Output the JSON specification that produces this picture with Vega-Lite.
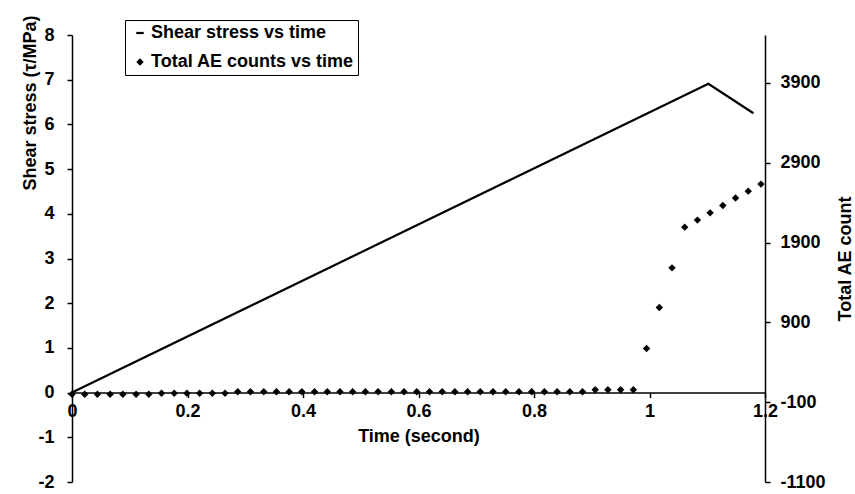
{
  "$schema": "https://vega.github.io/schema/vega-lite/v6.json",
  "width": 693,
  "height": 447,
  "autosize": {"type": "none"},
  "padding": {"left": 72, "top": 35, "right": 90, "bottom": 12},
  "background": "white",
  "config": {
    "view": {"stroke": null},
    "font": "Liberation Sans",
    "axis": {
      "grid": false,
      "domainColor": "black",
      "domainWidth": 1.5,
      "tickColor": "black",
      "tickWidth": 1.5,
      "tickSize": 5,
      "labelColor": "black",
      "labelFont": "Liberation Sans",
      "labelFontSize": 18,
      "labelFontWeight": "bold",
      "titleColor": "black",
      "titleFont": "Liberation Sans",
      "titleFontSize": 18,
      "titleFontWeight": "bold",
      "labelFlush": false,
      "labelOverlap": false,
      "labelBound": false,
      "labelExpr": "'' + datum.value"
    }
  },
  "data": {
    "values": [
      {"series": "Shear stress vs time", "time": 0, "value": 0},
      {"series": "Shear stress vs time", "time": 1.102, "value": 6.91},
      {"series": "Shear stress vs time", "time": 1.18, "value": 6.25},
      {"series": "Total AE counts vs time", "time": 0, "value": 0},
      {"series": "Total AE counts vs time", "time": 0.022, "value": 0},
      {"series": "Total AE counts vs time", "time": 0.044, "value": 0},
      {"series": "Total AE counts vs time", "time": 0.066, "value": 0},
      {"series": "Total AE counts vs time", "time": 0.088, "value": 0},
      {"series": "Total AE counts vs time", "time": 0.111, "value": 0},
      {"series": "Total AE counts vs time", "time": 0.133, "value": 0},
      {"series": "Total AE counts vs time", "time": 0.155, "value": 12},
      {"series": "Total AE counts vs time", "time": 0.177, "value": 12},
      {"series": "Total AE counts vs time", "time": 0.199, "value": 12},
      {"series": "Total AE counts vs time", "time": 0.221, "value": 12},
      {"series": "Total AE counts vs time", "time": 0.243, "value": 12},
      {"series": "Total AE counts vs time", "time": 0.265, "value": 12},
      {"series": "Total AE counts vs time", "time": 0.287, "value": 30},
      {"series": "Total AE counts vs time", "time": 0.309, "value": 30},
      {"series": "Total AE counts vs time", "time": 0.332, "value": 30},
      {"series": "Total AE counts vs time", "time": 0.354, "value": 30},
      {"series": "Total AE counts vs time", "time": 0.376, "value": 30},
      {"series": "Total AE counts vs time", "time": 0.398, "value": 30},
      {"series": "Total AE counts vs time", "time": 0.42, "value": 30},
      {"series": "Total AE counts vs time", "time": 0.442, "value": 30},
      {"series": "Total AE counts vs time", "time": 0.464, "value": 30},
      {"series": "Total AE counts vs time", "time": 0.486, "value": 30},
      {"series": "Total AE counts vs time", "time": 0.508, "value": 30},
      {"series": "Total AE counts vs time", "time": 0.53, "value": 30},
      {"series": "Total AE counts vs time", "time": 0.553, "value": 30},
      {"series": "Total AE counts vs time", "time": 0.575, "value": 30},
      {"series": "Total AE counts vs time", "time": 0.597, "value": 30},
      {"series": "Total AE counts vs time", "time": 0.619, "value": 30},
      {"series": "Total AE counts vs time", "time": 0.641, "value": 30},
      {"series": "Total AE counts vs time", "time": 0.663, "value": 30},
      {"series": "Total AE counts vs time", "time": 0.685, "value": 30},
      {"series": "Total AE counts vs time", "time": 0.707, "value": 30},
      {"series": "Total AE counts vs time", "time": 0.729, "value": 30},
      {"series": "Total AE counts vs time", "time": 0.751, "value": 30},
      {"series": "Total AE counts vs time", "time": 0.774, "value": 30},
      {"series": "Total AE counts vs time", "time": 0.796, "value": 30},
      {"series": "Total AE counts vs time", "time": 0.818, "value": 30},
      {"series": "Total AE counts vs time", "time": 0.84, "value": 30},
      {"series": "Total AE counts vs time", "time": 0.862, "value": 30},
      {"series": "Total AE counts vs time", "time": 0.884, "value": 30},
      {"series": "Total AE counts vs time", "time": 0.906, "value": 55},
      {"series": "Total AE counts vs time", "time": 0.928, "value": 55},
      {"series": "Total AE counts vs time", "time": 0.95, "value": 55},
      {"series": "Total AE counts vs time", "time": 0.972, "value": 55},
      {"series": "Total AE counts vs time", "time": 0.995, "value": 572},
      {"series": "Total AE counts vs time", "time": 1.017, "value": 1086},
      {"series": "Total AE counts vs time", "time": 1.039, "value": 1583},
      {"series": "Total AE counts vs time", "time": 1.061, "value": 2093},
      {"series": "Total AE counts vs time", "time": 1.083, "value": 2181},
      {"series": "Total AE counts vs time", "time": 1.105, "value": 2272},
      {"series": "Total AE counts vs time", "time": 1.127, "value": 2365},
      {"series": "Total AE counts vs time", "time": 1.149, "value": 2457},
      {"series": "Total AE counts vs time", "time": 1.171, "value": 2544},
      {"series": "Total AE counts vs time", "time": 1.193, "value": 2632}
    ]
  },
  "layer": [
    {
      "transform": [{"filter": "datum.series === 'Shear stress vs time'"}],
      "mark": {"type": "line", "color": "black", "strokeWidth": 2.2},
      "encoding": {
        "x": {
          "field": "time",
          "type": "quantitative",
          "scale": {"domain": [0, 1.2], "nice": false, "zero": false},
          "axis": {
            "values": [0, 0.2, 0.4, 0.6, 0.8, 1, 1.2],
            "offset": -89.4,
            "title": "Time (second)",
            "labelPadding": 5,
            "titlePadding": 7
          }
        },
        "y": {
          "field": "value",
          "type": "quantitative",
          "scale": {"domain": [-2, 8], "nice": false, "zero": false},
          "axis": {
            "orient": "left",
            "values": [-2, -1, 0, 1, 2, 3, 4, 5, 6, 7, 8],
            "title": "Shear stress (τ/MPa)",
            "titleAnchor": "end",
            "titleY": -20,
            "titleX": -42,
            "titleBaseline": "middle",
            "labelPadding": 13
          }
        }
      }
    },
    {
      "transform": [{"filter": "datum.series === 'Total AE counts vs time'"}],
      "mark": {"type": "point", "filled": true, "color": "black", "opacity": 1, "size": 55},
      "encoding": {
        "x": {"field": "time", "type": "quantitative"},
        "y": {
          "field": "value",
          "type": "quantitative",
          "scale": {"domain": [-1100, 4500], "nice": false, "zero": false},
          "axis": {
            "orient": "right",
            "values": [-1100, -100, 900, 1900, 2900, 3900],
            "title": "Total AE count",
            "titleAngle": 270,
            "titleX": 80,
            "titleBaseline": "middle",
            "labelPadding": 10
          }
        },
        "shape": {
          "field": "series",
          "type": "nominal",
          "scale": {
            "domain": ["Shear stress vs time", "Total AE counts vs time"],
            "range": ["M-1,-0.3H1V0.3H-1Z", "diamond"]
          },
          "legend": {
            "orient": "none",
            "legendX": 53,
            "legendY": -15,
            "title": null,
            "strokeColor": "black",
            "fillColor": "white",
            "padding": 4,
            "cornerRadius": 0,
            "labelFont": "Liberation Sans",
            "labelFontSize": 18,
            "labelFontWeight": "bold",
            "labelColor": "black",
            "labelLimit": 400,
            "labelOffset": 2,
            "symbolOffset": 2,
            "rowPadding": 11,
            "symbolSize": 55,
            "symbolFillColor": "black",
            "symbolStrokeColor": "black",
            "symbolStrokeWidth": 0,
            "symbolOpacity": 1,
            "encode": {
              "legend": {"update": {"strokeWidth": {"value": 1.5}}},
              "symbols": {"update": {"fill": {"value": "black"}, "opacity": {"value": 1}}}
            }
          }
        }
      }
    }
  ],
  "resolve": {"scale": {"y": "independent"}}
}
